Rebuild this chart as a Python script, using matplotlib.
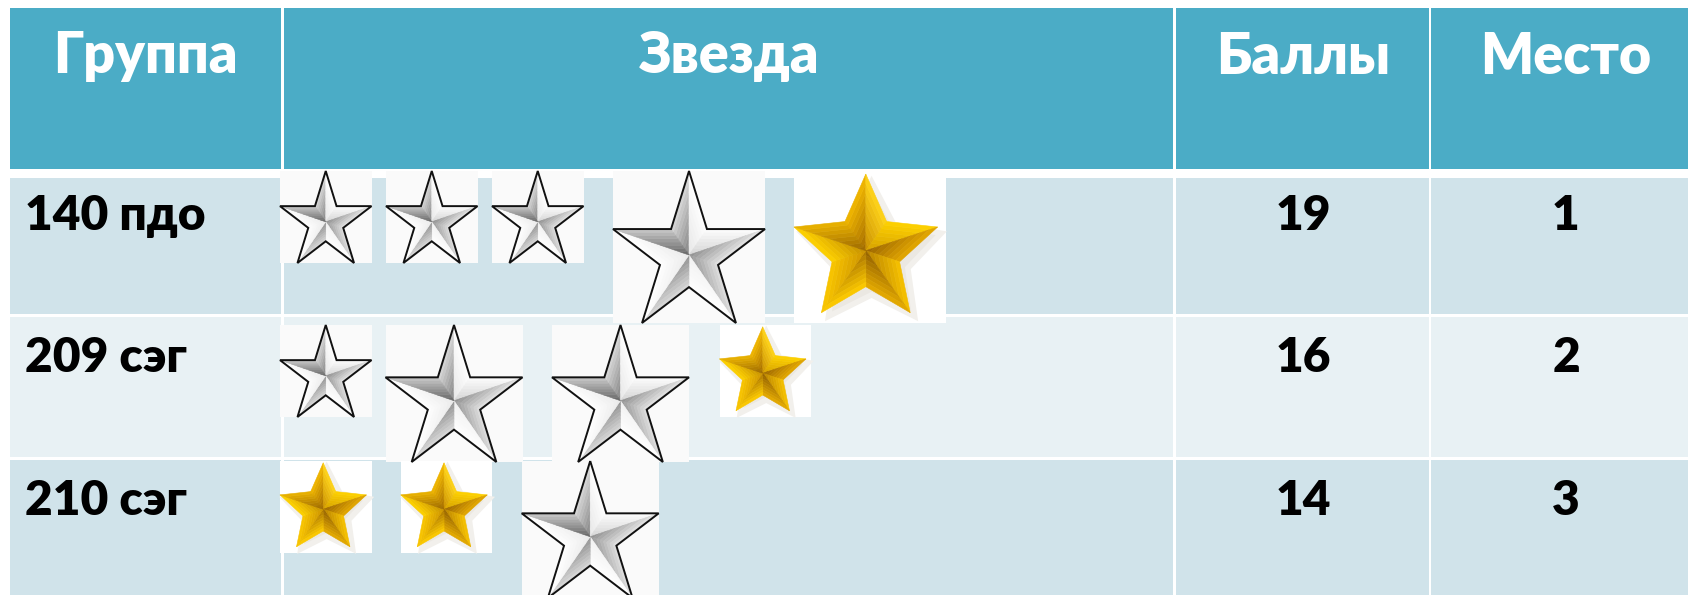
import numpy as np
import matplotlib
matplotlib.use("Agg")
import matplotlib.pyplot as plt
from matplotlib.patches import Rectangle, Polygon
from matplotlib.colors import to_rgb

# ---------------- data ----------------
headers = ['Группа', 'Звезда', 'Баллы', 'Место']
groups = ['140 пдо', '209 сэг', '210 сэг']
scores = [19, 16, 14]
places = [1, 2, 3]
star_metal = [['silver', 'silver', 'silver', 'silver', 'gold'],
              ['silver', 'silver', 'silver', 'gold'],
              ['gold', 'gold', 'silver']]
star_big = [[False, False, False, True, True],
            [False, True, True, False],
            [False, False, True]]

# ---------------- layout (pixels) ----------------
W, H = 1688, 595
col_bounds = [(10, 281), (284, 1173), (1175.5, 1428.5), (1431, 1700)]
head_bounds = (8.3, 169.3)
row_bounds = [(177.7, 314), (317.3, 456.7), (460, 600)]
text_base = [229.5, 372.3, 515]
head_base = 73.5
head_cx = [145, 729, 1303, 1566]
name_x = 25

star_top = [171, 325, 461]
star_x0 = 280
small_size = (91.5, 92)
big_size = [152, 137, 137]
star_gaps = [[14.5, 14.5, 29.5, 29], [14, 29.5, 30.5], [29.3, 29.4]]

HEAD_C = '#4BACC6'
ROW_C = ['#D0E3EA', '#E8F1F4', '#D0E3EA']

plt.rcParams['font.family'] = ['Lato', 'DejaVu Sans']
WEIGHT = 'heavy'

fig = plt.figure(figsize=(W / 100, H / 100), dpi=100)
ax = fig.add_axes([0, 0, 1, 1])
ax.set_xlim(0, W)
ax.set_ylim(H, 0)
ax.axis('off')
fig.patch.set_facecolor('white')

# table cells
for (x0, x1) in col_bounds:
    ax.add_patch(Rectangle((x0, head_bounds[0]), x1 - x0, head_bounds[1] - head_bounds[0],
                           facecolor=HEAD_C, edgecolor='none', zorder=1))
    for r, (y0, y1) in enumerate(row_bounds):
        ax.add_patch(Rectangle((x0, y0), x1 - x0, y1 - y0,
                               facecolor=ROW_C[r], edgecolor='none', zorder=1))

for cx, h in zip(head_cx, headers):
    ax.text(cx, head_base, h, color='white', fontsize=40, fontweight=WEIGHT,
            ha='center', va='baseline', zorder=5)

for r in range(len(groups)):
    ax.text(name_x, text_base[r], groups[r], color='black', fontsize=34.5,
            fontweight=WEIGHT, ha='left', va='baseline', zorder=5)
    ax.text(head_cx[2], text_base[r], str(scores[r]), color='black', fontsize=34.5,
            fontweight=WEIGHT, ha='center', va='baseline', zorder=5)
    ax.text(head_cx[3], text_base[r], str(places[r]), color='black', fontsize=34.5,
            fontweight=WEIGHT, ha='center', va='baseline', zorder=5)

# star shading (center colour -> outer colour) for (ccw half, cw half) of each arm
SILVER = [(('#808080', '#d8d8d8'), ('#e6e6e6', '#ffffff')),
          (('#d4d4d4', '#fdfdfd'), ('#8e8e8e', '#e4e4e4')),
          (('#969696', '#e0e0e0'), ('#f0f0f0', '#ffffff')),
          (('#909090', '#dadada'), ('#eaeaea', '#ffffff')),
          (('#eaeaea', '#ffffff'), ('#666666', '#c8c8c8'))]
GOLD = [(('#a06800', '#f2b800'), ('#c88e00', '#ffd41a')),
        (('#d4a000', '#ffd200'), ('#9a6400', '#e4a800')),
        (('#b88200', '#f7c200'), ('#926000', '#e6ac00')),
        (('#aa7400', '#ffcc00'), ('#cc9400', '#fac600')),
        (('#c48e00', '#ffd200'), ('#9a6600', '#ebb400'))]


def mix(c0, c1, t):
    a, b = np.array(to_rgb(c0)), np.array(to_rgb(c1))
    return tuple(a + (b - a) * t)


def star_points(cx, cy, sx, sy, ratio):
    tips, inners = [], []
    for k in range(5):
        a = np.radians(72 * k)
        tips.append((cx + sx * np.sin(a), cy - sy * np.cos(a)))
        b = np.radians(72 * k + 36)
        inners.append((cx + ratio * sx * np.sin(b), cy - ratio * sy * np.cos(b)))
    return np.array(tips), np.array(inners)


def facet(c, a, b, col0, col1, z, n=8):
    c, a, b = map(np.array, (c, a, b))
    for i in range(n):
        t0, t1 = i / n, (i + 1) / n
        pts = [c + t0 * (a - c), c + t1 * (a - c), c + t1 * (b - c), c + t0 * (b - c)]
        col = mix(col0, col1, (i + 0.5) / n)
        ax.add_patch(Polygon(pts, closed=True, facecolor=col, edgecolor=col,
                             lw=0.4, zorder=z))


def draw_star(x0, y0, w, h, metal):
    if metal == 'silver':
        ax.add_patch(Rectangle((x0, y0), w, h, facecolor='#fafafa', edgecolor='none', zorder=3))
        sw, sh, ratio, shades = w, h, 0.382, SILVER
        top = y0
    else:
        ax.add_patch(Rectangle((x0, y0), w, h, facecolor='white', edgecolor='none', zorder=3))
        sw, sh, ratio, shades = 0.945 * w, 0.912 * h, 0.47, GOLD
        top = y0 + 0.02 * h
    sx, sy = sw / 1.902, sh / 1.809
    cx, cy = x0 + sw / 2, top + sy
    tips, inners = star_points(cx, cy, sx, sy, ratio)
    if metal == 'gold':
        st, si = star_points(cx + 0.04 * sw, cy + 0.04 * sh, sx * 0.97, sy * 0.97, ratio + 0.05)
        outline = [p for pair in zip(st, si) for p in pair]
        ax.add_patch(Polygon(outline, closed=True, facecolor='#ebe8e2',
                             edgecolor='#f2f0ec', lw=4, zorder=3.5))
    for k in range(5):
        (ccw0, ccw1), (cw0, cw1) = shades[k]
        facet((cx, cy), inners[k - 1], tips[k], ccw0, ccw1, 4)
        facet((cx, cy), tips[k], inners[k], cw0, cw1, 4)
    if metal == 'silver':
        outline = [p for pair in zip(tips, inners) for p in pair]
        ax.add_patch(Polygon(outline, closed=True, facecolor='none',
                             edgecolor='#111111', lw=1.4, joinstyle='miter', zorder=4.5))


for r in range(len(star_metal)):
    x = star_x0
    for i, (metal, big) in enumerate(zip(star_metal[r], star_big[r])):
        if big:
            w = h = big_size[r]
        else:
            w, h = small_size
        draw_star(x, star_top[r], w, h, metal)
        if i < len(star_gaps[r]):
            x += w + star_gaps[r][i]

fig.savefig('out.png', dpi=100)
